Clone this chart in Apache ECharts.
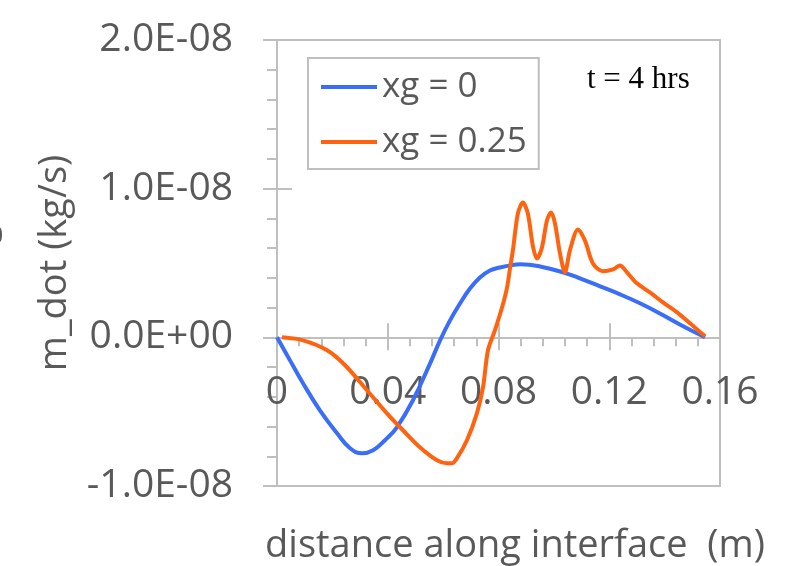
<!DOCTYPE html>
<html>
<head>
<meta charset="utf-8">
<script src="https://cdn.jsdelivr.net/npm/echarts@6/dist/echarts.min.js"></script>
<style>
  html, body { margin: 0; padding: 0; background: #ffffff; }
  #chart { width: 797px; height: 566px; }
</style>
</head>
<body>
<div id="chart"></div>
<script>
// Mass flow rate along the interface at t = 4 hrs
const seriesNames = ['xg = 0', 'xg = 0.25'];

// xg = 0
const xg0Distance = [0, 0.0047, 0.0094, 0.0155, 0.0217, 0.0264, 0.0307, 0.0347, 0.0390, 0.0433,
  0.0491, 0.0553, 0.0589, 0.0625, 0.0661, 0.0697, 0.0733, 0.0769, 0.0805, 0.0842,
  0.0878, 0.0950, 0.1033, 0.1094, 0.1167, 0.1239, 0.1311, 0.1383, 0.1455, 0.1546];
const xg0Mdot = [0, -1.55e-9, -3.09e-9, -4.91e-9, -6.45e-9, -7.46e-9, -7.80e-9, -7.59e-9, -6.92e-9, -6.05e-9,
  -4.23e-9, -1.75e-9, -0.20e-9, 1.14e-9, 2.28e-9, 3.29e-9, 4.03e-9, 4.50e-9, 4.70e-9, 4.84e-9,
  4.91e-9, 4.77e-9, 4.37e-9, 3.97e-9, 3.43e-9, 2.89e-9, 2.29e-9, 1.61e-9, 0.87e-9, 0];

// xg = 0.25
const xg25Distance = [0.0018, 0.0094, 0.0181, 0.0246, 0.0325, 0.0397, 0.0455, 0.0516, 0.0578, 0.0614,
  0.0632, 0.0650, 0.0686, 0.0722, 0.0744, 0.0762, 0.0787, 0.0813, 0.0831, 0.0842, 0.0852,
  0.0870, 0.0888, 0.0906, 0.0925, 0.0939, 0.0957, 0.0975, 0.0990, 0.1004, 0.1022,
  0.1040, 0.1058, 0.1087, 0.1112, 0.1141, 0.1177, 0.1214, 0.1239, 0.1264, 0.1300,
  0.1347, 0.1394, 0.1445, 0.1492, 0.1546];
const xg25Mdot = [0, -0.20e-9, -0.87e-9, -1.88e-9, -3.56e-9, -5.11e-9, -6.25e-9, -7.39e-9, -8.27e-9, -8.47e-9,
  -8.47e-9, -8.13e-9, -6.92e-9, -5.11e-9, -3.36e-9, -0.87e-9, 0.47e-9, 2.02e-9, 3.36e-9, 4.70e-9, 5.85e-9,
  8.33e-9, 9.07e-9, 8.33e-9, 6.05e-9, 5.30e-9, 6.05e-9, 7.86e-9, 8.40e-9, 7.66e-9, 5.65e-9,
  4.37e-9, 5.85e-9, 7.26e-9, 6.52e-9, 4.97e-9, 4.44e-9, 4.57e-9, 4.84e-9, 4.37e-9, 3.63e-9,
  3.02e-9, 2.35e-9, 1.68e-9, 0.94e-9, 0.07e-9];

// Axis ranges and tick steps
const xRange = [0, 0.16];
const xStep = 0.04;
const yRange = [-1e-8, 2e-8];
const yStep = 1e-8;

const axisGray = '#BFBFBF';
const textGray = '#595959';
const sansFont = "'Open Sans', 'Noto Sans', sans-serif";

function pairs(xs, ys) {
  return xs.map((x, i) => [x, ys[i]]);
}

// 2.0E-08 style labels
function sciLabel(v) {
  if (Math.abs(v) < 1e-20) return '0.0E+00';
  const e = Math.floor(Math.log10(Math.abs(v)) + 1e-9);
  const m = v / Math.pow(10, e);
  const es = (e < 0 ? '-' : '+') + String(Math.abs(e)).padStart(2, '0');
  return m.toFixed(1) + 'E' + es;
}

const chart = echarts.init(document.getElementById('chart'), null, { renderer: 'canvas' });

const baseX = {
  type: 'value', min: xRange[0], max: xRange[1], interval: xStep,
  splitLine: { show: false }
};
const baseY = {
  type: 'value', min: yRange[0], max: yRange[1], interval: yStep,
  splitLine: { show: false }
};

chart.setOption({
  animation: false,
  backgroundColor: '#ffffff',
  grid: {
    left: 277, top: 40, width: 443, height: 446,
    show: true, borderColor: axisGray, borderWidth: 2
  },
  legend: {
    orient: 'vertical',
    left: 308, top: 58,
    data: seriesNames,
    icon: 'rect',
    itemWidth: 56, itemHeight: 4,
    itemGap: 11,
    padding: [7, 12, 5, 13],
    borderColor: axisGray, borderWidth: 2,
    textStyle: { fontFamily: sansFont, fontSize: 35, color: textGray, lineHeight: 44 }
  },
  xAxis: [
    Object.assign({}, baseX, {
      position: 'bottom',
      axisLine: { onZero: true, onZeroAxisIndex: 0, lineStyle: { color: axisGray, width: 2 } },
      axisTick: { show: true, inside: false, length: 13, lineStyle: { color: axisGray, width: 2 } },
      minorTick: { show: true, splitNumber: 5, length: 9, lineStyle: { color: axisGray, width: 2 } },
      axisLabel: { margin: -113, fontFamily: sansFont, fontSize: 39, color: textGray }
    }),
    Object.assign({}, baseX, {
      position: 'bottom',
      axisLine: { show: false, onZero: true, onZeroAxisIndex: 0 },
      axisTick: { show: true, inside: true, length: 14, lineStyle: { color: axisGray, width: 2 } },
      axisLabel: { show: false }
    })
  ],
  yAxis: [
    Object.assign({}, baseY, {
      position: 'left',
      axisLine: { show: true, onZero: false, lineStyle: { color: axisGray, width: 2 } },
      axisTick: { show: true, inside: false, length: 14, lineStyle: { color: axisGray, width: 2 } },
      minorTick: { show: true, splitNumber: 5, length: 10, lineStyle: { color: axisGray, width: 2 } },
      axisLabel: { margin: 44, fontFamily: sansFont, fontSize: 39, color: textGray, formatter: sciLabel }
    }),
    Object.assign({}, baseY, {
      position: 'left',
      axisLine: { show: false, onZero: false },
      axisTick: { show: true, inside: true, length: 15, lineStyle: { color: axisGray, width: 2 } },
      axisLabel: { show: false }
    })
  ],
  series: [
    {
      name: seriesNames[0], type: 'line', xAxisIndex: 0, yAxisIndex: 0,
      data: pairs(xg0Distance, xg0Mdot),
      symbol: 'none', smooth: 0.45,
      color: '#3A6EF8',
      lineStyle: { width: 4, color: '#3A6EF8' }
    },
    {
      name: seriesNames[1], type: 'line', xAxisIndex: 0, yAxisIndex: 0,
      data: pairs(xg25Distance, xg25Mdot),
      symbol: 'none', smooth: 0.3,
      color: '#FF6310',
      lineStyle: { width: 4, color: '#FF6310' }
    }
  ],
  graphic: [
    {
      type: 'text', x: 587, y: 80,
      style: { text: 't = 4 hrs', font: "31px 'Liberation Serif', 'Times New Roman', serif", fill: '#000000', verticalAlign: 'middle', align: 'left' }
    },
    {
      type: 'text', x: 55, y: 263, rotation: Math.PI / 2,
      style: { text: 'm_dot (kg/s)', font: "38px " + sansFont, fill: textGray, align: 'center', verticalAlign: 'middle' }
    },
    {
      type: 'text', x: -9, y: 233, rotation: Math.PI / 2,
      style: { text: 'S', font: "38px " + sansFont, fill: textGray, align: 'center', verticalAlign: 'middle' }
    },
    {
      type: 'text', x: 515, y: 546,
      style: { text: 'distance along interface  (m)', font: "38px " + sansFont, fill: textGray, align: 'center', verticalAlign: 'middle' }
    }
  ]
});
</script>
</body>
</html>
